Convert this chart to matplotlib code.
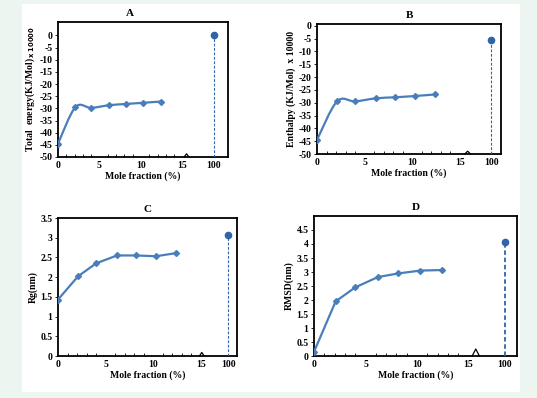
import matplotlib
matplotlib.use("Agg")
import matplotlib.pyplot as plt
from matplotlib.path import Path
from matplotlib.patches import PathPatch, Rectangle
import numpy as np

# ---------------- data ----------------
mole_fraction = [0, 2.1, 4.0, 6.2, 8.2, 10.3, 12.4]
total_energy = [-44.5, -29.5, -29.8, -28.7, -28.2, -27.7, -27.2]
enthalpy = [-44.5, -29.5, -29.5, -28.3, -27.9, -27.4, -26.8]
rg = [1.43, 2.02, 2.35, 2.55, 2.55, 2.53, 2.61]
rmsd = [0.15, 1.95, 2.45, 2.82, 2.95, 3.05, 3.07]
pure_label = "100"
total_energy_100 = 0.0
enthalpy_100 = -5.6
rg_100 = 3.08
rmsd_100 = 4.08
x_ticks = [0, 5, 10, 15]

LINE = "#4a7ebb"
DOT = "#2f64a8"
plt.rcParams["font.family"] = ["Liberation Serif", "DejaVu Serif"]
plt.rcParams["font.weight"] = "bold"
plt.rcParams["axes.labelweight"] = "bold"
plt.rcParams["axes.titleweight"] = "bold"

fig = plt.figure(figsize=(5.37, 3.98), dpi=100)
fig.patch.set_facecolor("#edf5f0")
W, H = 537, 398
fig.add_artist(Rectangle((22 / W, 1 - 392 / H), (520 - 22) / W, (392 - 4) / H,
                         transform=fig.transFigure, facecolor="white",
                         edgecolor="none", zorder=0))


def smooth_path(xs, ys, sx, sy):
    # Catmull-Rom style smoothing computed in (approximate) screen space
    pts = np.column_stack([np.asarray(xs, float) * sx, np.asarray(ys, float) * sy])
    n = len(pts)
    verts = [pts[0]]
    codes = [Path.MOVETO]
    for i in range(n - 1):
        p0 = pts[i - 1] if i > 0 else pts[i]
        p1 = pts[i]
        p2 = pts[i + 1]
        p3 = pts[i + 2] if i + 2 < n else pts[i + 1]
        c1 = p1 + (p2 - p0) / 6.0
        c2 = p2 - (p3 - p1) / 6.0
        verts += [c1, c2, p2]
        codes += [Path.CURVE4] * 3
    verts = np.array(verts)
    verts[:, 0] /= sx
    verts[:, 1] /= sy
    return Path(verts, codes)


def panel(rect, title, title_x, xs, ys, y100, x100, xmax, ylim, yticks,
          ylabel, brk, brk_h, brk_w, ylab_pad, dash_lw=0.8, smooth=True):
    l, r, t, b = rect
    ax = fig.add_axes([l / W, 1 - b / H, (r - l) / W, (b - t) / H])
    ax.set_facecolor("none")
    sx = (r - l) / xmax
    sy = (b - t) / (ylim[1] - ylim[0])
    if smooth:
        ax.add_patch(PathPatch(smooth_path(xs, ys, sx, sy), facecolor="none",
                               edgecolor=LINE, lw=1.6, zorder=3))
    else:
        ax.plot(xs, ys, color=LINE, lw=1.6, zorder=3)
    ax.plot(xs, ys, ls="none", marker="D", ms=3, color=LINE, zorder=4)
    ax.plot([x100], [y100], marker="o", ms=4.5, color=DOT, zorder=5,
            clip_on=False)
    ax.plot([x100, x100], [ylim[0], y100], ls=(0, (2.5, 1.5)), lw=dash_lw,
            color=DOT, zorder=4)
    # axis break mark
    ax.plot([brk - brk_w, brk, brk + brk_w], [ylim[0], ylim[0] + brk_h, ylim[0]],
            color="black", lw=0.9, zorder=6, clip_on=False)
    ax.set_xlim(0, xmax)
    ax.set_ylim(*ylim)
    ax.set_xticks(x_ticks + [x100])
    ax.set_xticklabels([str(v) for v in x_ticks] + [pure_label])
    ax.set_xticks(np.arange(0, 16, 1), minor=True)
    ax.set_yticks(yticks)
    ax.set_yticklabels(["%g" % v for v in yticks])
    ax.tick_params(axis="x", which="major", length=0, labelsize=7, pad=3)
    ax.tick_params(axis="x", which="minor", length=2, direction="in", width=0.6)
    ax.tick_params(axis="y", length=2.5, width=0.6, labelsize=7, pad=1.5)
    for s in ax.spines.values():
        s.set_linewidth(1.3)
    ax.set_xlabel("Mole fraction (%)", fontsize=7, labelpad=1)
    ax.set_ylabel(ylabel, fontsize=7, labelpad=ylab_pad)
    ax.set_title(title, fontsize=8, x=title_x, pad=4)
    return ax


panel((58, 228, 22, 157), "A", 0.42, mole_fraction, total_energy,
      total_energy_100, 18.8, 20.5, (-50, 5.5), list(range(-50, 1, 5)),
      "Total  energy(KJ/Mol)$_{\\,\\mathbf{x\\,10000}}$", 15.5, 1.3, 0.3, 2)
panel((317, 501, 24, 154), "B", 0.5, mole_fraction, enthalpy,
      enthalpy_100, 18.3, 19.3, (-50, 0.65), list(range(-50, 1, 5)),
      "Enthalpy (KJ/Mol)  x 10000", 15.8, 1.1, 0.3, 2)
panel((58, 237, 218, 356), "C", 0.5, mole_fraction, rg,
      rg_100, 17.9, 18.8, (0, 3.5), list(np.arange(0, 3.51, 0.5)),
      "Rg(nm)", 15.1, 0.09, 0.25, 2, smooth=False)
panel((314, 517, 216, 356), "D", 0.5, mole_fraction, rmsd,
      rmsd_100, 18.5, 19.7, (0, 5.0), list(np.arange(0, 4.51, 0.5)),
      "RMSD(nm)", 15.7, 0.25, 0.35, 2, dash_lw=1.3, smooth=False)

fig.savefig("out.png", dpi=100, facecolor=fig.get_facecolor())
